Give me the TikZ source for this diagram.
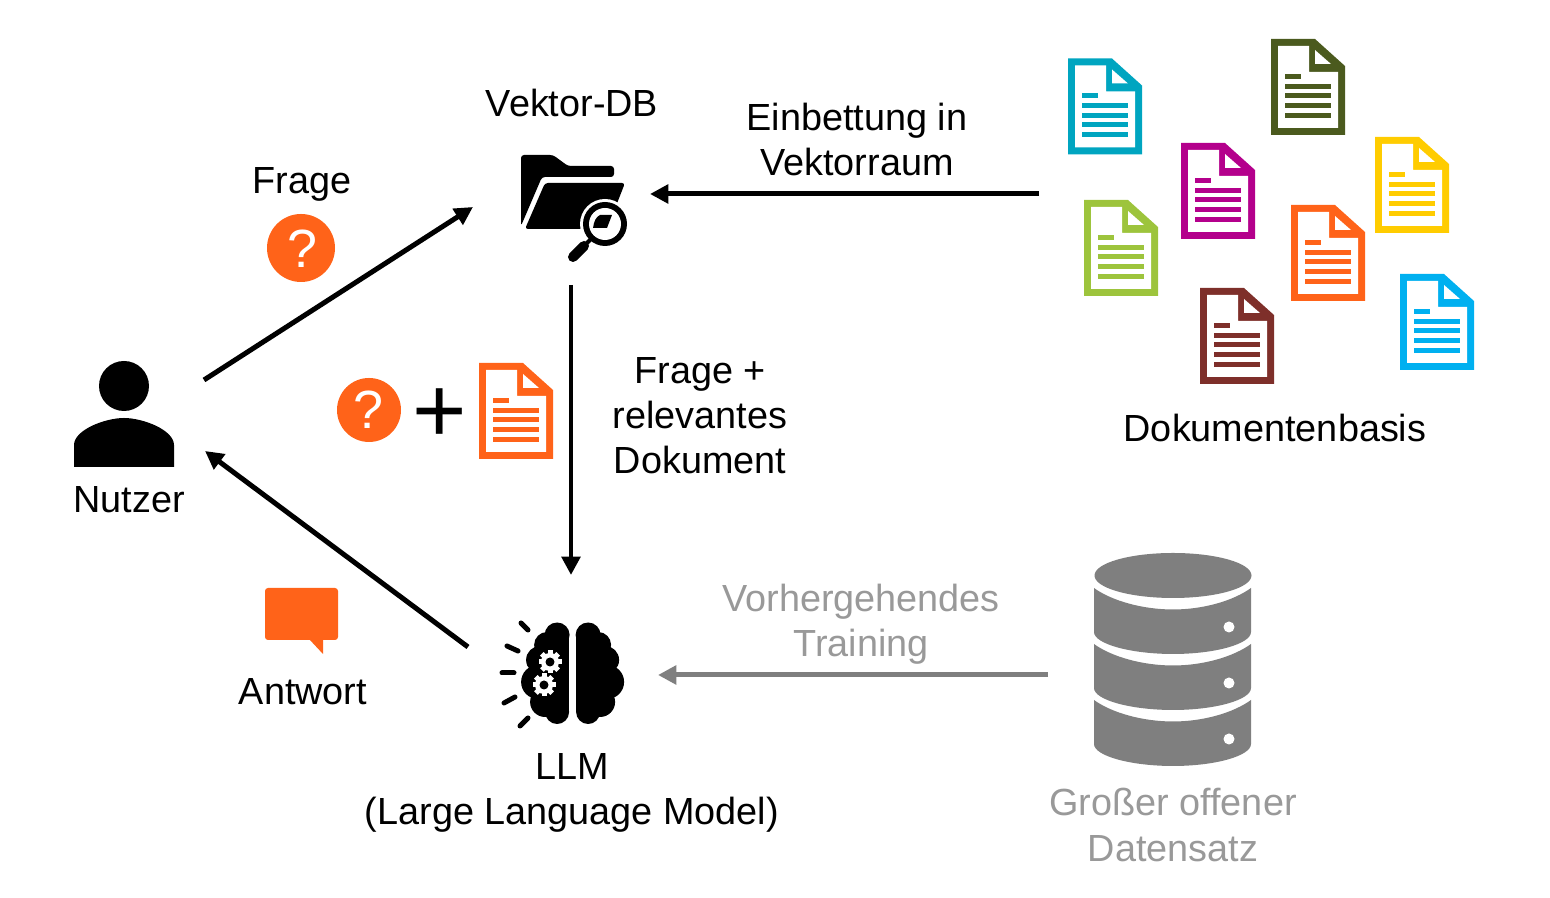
\documentclass[tikz,border=0pt]{standalone}
\usepackage{fontspec}
\setmainfont{Liberation Sans}
\usetikzlibrary{arrows.meta}

\definecolor{qorange}{HTML}{FF6319}
\definecolor{dbgray}{HTML}{7F7F7F}
\definecolor{txtgray}{HTML}{999999}
\definecolor{doccyan}{HTML}{00A5C0}
\definecolor{docolive}{HTML}{4B5A1E}
\definecolor{docmagenta}{HTML}{B4008C}
\definecolor{docyellow}{HTML}{FFCC00}
\definecolor{doclime}{HTML}{9DC43C}
\definecolor{docbrown}{HTML}{7E2F2A}
\definecolor{docblue}{HTML}{00B0F0}

\def\px{0.2845pt}

% document icon: top left corner, colour
\newcommand{\docicon}[3]{%
  \begin{scope}[shift={(#1,#2)}]
    \fill[#3] (0,0) -- (44,0) -- (74,27) -- (74,96) -- (0,96) -- cycle;
    \fill[white] (7,7) -- (38,7) -- (38,33) -- (67,33) -- (67,89) -- (7,89) -- cycle;
    \fill[white] (44,11) -- (60,25) -- (44,25) -- cycle;
    \fill[#3] (14,35) rectangle (30,40);
    \foreach \ly in {45,54.5,64,74} {
      \fill[#3] (14,\ly) rectangle (60,\ly+5);
    }
  \end{scope}
}
\newcommand{\gearicon}[2]{%
  \foreach \a in {0,45,...,315} {
    \draw[white,line width=5*\px] (#1,#2) -- ++(\a:11.5);
  }
  \fill[white] (#1,#2) circle (9);
  \fill[black] (#1,#2) circle (4.5);
}

\begin{document}
\begin{tikzpicture}[x=0.01cm,y=-0.01cm,>={Triangle[length=5.2pt,width=5.2pt]},
    lbl/.style={font=\fontsize{10.75}{12.8}\selectfont,align=center,inner sep=0pt},
    lblgray/.style={lbl,text=txtgray},
    qmark/.style={font=\fontsize{15.3}{15.3}\selectfont,text=white,inner sep=0pt},
    conn/.style={->,line width=5*\px}]
  \useasboundingbox (0,0) rectangle (1550,898);

  % ================= user =================
  \fill (124,386) circle (25);
  \fill (74,467) -- (74,445) .. controls (74,430) and (105,418) .. (124,418)
    .. controls (143,418) and (174,430) .. (174,445) -- (174,467) -- cycle;
  \node[lbl] (nutzer) at (129,500) {Nutzer};

  % ================= question / answer =================
  \node[lbl] (frage) at (302,184) {Frage};
  \fill[qorange] (301,248) circle (34);
  \node[qmark] (q1) at (302,249) {?};
  \fill[qorange] (369,410) circle (32);
  \node[qmark] (q2) at (368,410) {?};
  \node[font=\fontsize{26.5}{26.5}\selectfont,inner sep=0pt] (plus) at (440,416) {+};
  \docicon{479}{363}{qorange}
  \fill[qorange,rounded corners=3*\px] (265,588) rectangle (338,640);
  \fill[qorange] (309,639) -- (323,654) -- (323,639) -- cycle;
  \node[lbl] (antwort) at (303,692) {Antwort};

  % ================= folder =================
  \fill[rounded corners=3*\px] (521,226) -- (521,155) -- (553,155) -- (568,166) -- (614,166)
    -- (614,177) -- (542,177) -- cycle;
  \fill[rounded corners=3*\px] (525,229) -- (545,183) -- (625,183) -- (607,229) -- cycle;
  \fill[white] (605,224) circle (25);
  \fill (605,224) circle (22);
  \fill[white] (605,224) circle (16);
  \fill (593,228) .. controls (594,221) and (596,217) .. (600,215) -- (612,215) -- (607,228) -- cycle;
  \draw[line width=4*\px] (592,238) -- (583,247);
  \draw[line width=10*\px,line cap=round] (584,246) -- (573,257);
  \node[lbl] (vektordb) at (572,103) {Vektor-DB};

  % ================= documents =================
  \docicon{1068}{58.5}{doccyan}
  \docicon{1271}{39}{docolive}
  \docicon{1181}{143}{docmagenta}
  \docicon{1375}{137}{docyellow}
  \docicon{1084}{200}{doclime}
  \docicon{1291}{205}{qorange}
  \docicon{1200}{288}{docbrown}
  \docicon{1400}{274}{docblue}
  \node[lbl] (basis) at (1275,428) {Dokumentenbasis};

  % ================= brain =================
  \foreach \s in {-1,1} {
    \begin{scope}[shift={(572.6,0)},xscale=\s]
      \fill (3.5,635) rectangle (30,712);
      \fill (15.5,635) circle (12.5);
      \fill (25.5,645) circle (13);
      \fill (32.5,660) circle (14);
      \fill (34.5,682) circle (17);
      \fill (27.5,702) circle (15);
      \fill (15.5,712) circle (12);
    \end{scope}
  }
  \gearicon{550}{662}
  \gearicon{544}{685}
  \begin{scope}[line width=5*\px,line cap=round]
    \draw (521,623) -- (528,630);
    \draw (507,646) -- (518,651);
    \draw (502,673) -- (514,673);
    \draw (504,703) -- (515,697);
    \draw (520,726) -- (528,718);
  \end{scope}
  \node[lbl] (llm) at (572,793) {LLM\\(Large Language Model)};

  % ================= database =================
  \fill[dbgray] (1173,575.5) ellipse (78.5 and 22.5);
  \foreach \i in {0,1,2} {
    \begin{scope}[shift={(0,56*\i)}]
      \fill[dbgray] (1094,588) .. controls (1112,601) and (1143,609.5) .. (1173,609.5)
        .. controls (1203,609.5) and (1233,601) .. (1251,588)
        -- (1251,632) .. controls (1251,644) and (1215,654) .. (1173,654)
        .. controls (1131,654) and (1094,644) .. (1094,632) -- cycle;
      \fill[white] (1229,627) circle (5.5);
    \end{scope}
  }
  \node[lblgray] (datensatz) at (1173,825) {Großer offener\\Datensatz};

  % ================= labels on arrows =================
  \node[lbl] (einbettung) at (857,139.5) {Einbettung in\\Vektorraum};
  \node[lbl] (kontext) at (700,416) {Frage +\\relevantes\\Dokument};
  \node[lblgray] (training) at (861,624.5) {Vorhergehendes\\Training};

  % ================= arrows =================
  \coordinate (nutzerOut) at (204,380);
  \coordinate (nutzerIn) at (205,451);
  \coordinate (dbIn) at (473,207);
  \coordinate (dbEast) at (650,194);
  \coordinate (dbSouth) at (571,285);
  \coordinate (llmNorth) at (571,575);
  \coordinate (llmOut) at (468,647);
  \coordinate (llmEast) at (658,675);
  \coordinate (basisOut) at (1039,194);
  \coordinate (datenOut) at (1048,675);

  \draw[conn] (nutzerOut) -- (dbIn);
  \draw[conn] (basisOut) -- (dbEast);
  \draw[conn,line width=4.5*\px] (dbSouth) -- (llmNorth);
  \draw[conn] (llmOut) -- (nutzerIn);
  \draw[conn,dbgray] (datenOut) -- (llmEast);
\end{tikzpicture}
\end{document}
